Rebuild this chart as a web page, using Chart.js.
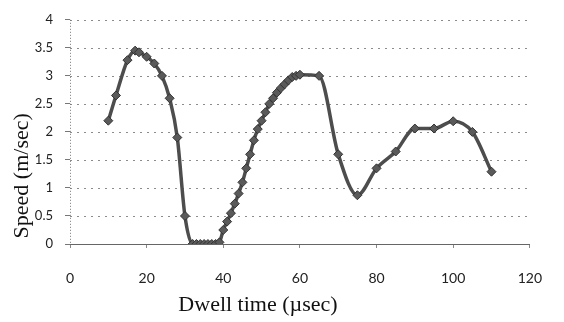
<!DOCTYPE html>
<html>
<head>
<meta charset="utf-8">
<script src="https://cdn.jsdelivr.net/npm/chart.js@4"></script>
<style>
html,body{margin:0;padding:0;background:#fff;}
#wrap{position:relative;width:564px;height:322px;}
</style>
</head>
<body>
<div id="wrap"><canvas id="c" width="564" height="322"></canvas></div>
<script>
// Dwell time (µsec)
const dwellTimes = [10,12,15,17,18,20,22,24,26,28,30,32,33,34,35,36,37,38,39,
  40,41,42,43,44,45,46,47,48,49,50,51,52,53,54,55,56,57,58,59,60,
  65,70,75,80,85,90,95,100,105,110];
// Speed (m/sec)
const speeds = [2.2,2.65,3.28,3.45,3.42,3.34,3.22,3.0,2.6,1.9,0.5,0.0,0.0,0.0,0.0,0.0,0.0,0.0,0.03,
  0.25,0.4,0.55,0.72,0.9,1.1,1.35,1.6,1.85,2.05,2.2,2.35,2.5,2.6,2.7,2.78,2.85,2.92,2.98,3.0,3.02,
  3.0,1.6,0.87,1.35,1.65,2.06,2.06,2.19,2.0,1.29];
const xTickLabels = ['0','20','40','60','80','100','120'];
const yTickLabels = ['0','0.5','1','1.5','2','2.5','3','3.5','4'];
const xTitle = 'Dwell time (µsec)';
const yTitle = 'Speed (m/sec)';

const points = dwellTimes.map((x, i) => ({x: x, y: speeds[i]}));

const dashedGrid = {
  id: 'dashedGrid',
  beforeDatasetsDraw(chart) {
    const ctx = chart.ctx;
    const ca = chart.chartArea;
    const ys = chart.scales.y;
    ctx.save();
    ctx.strokeStyle = '#8c8c8c';
    ctx.lineWidth = 1;
    ctx.setLineDash([2, 5]);
    ys.ticks.forEach(t => {
      if (t.value === 0) return;
      const py = Math.round(ys.getPixelForValue(t.value)) + 0.5;
      ctx.beginPath();
      ctx.moveTo(ca.left, py);
      ctx.lineTo(ca.right, py);
      ctx.stroke();
    });
    // dotted left axis line
    ctx.setLineDash([1, 2]);
    ctx.strokeStyle = '#777';
    ctx.beginPath();
    ctx.moveTo(ca.left + 0.5, ca.top);
    ctx.lineTo(ca.left + 0.5, ca.bottom);
    ctx.stroke();
    ctx.restore();
  }
};

const titlePlugin = {
  id: 'axisTitles',
  afterDraw(chart) {
    const ctx = chart.ctx;
    const ca = chart.chartArea;
    ctx.save();
    ctx.fillStyle = '#111';
    ctx.font = '22px "Liberation Serif", "DejaVu Serif", serif';
    ctx.textAlign = 'center';
    ctx.textBaseline = 'middle';
    ctx.fillText(xTitle, ca.left + 188, ca.bottom + 61);
    ctx.translate(22, ca.top + 156);
    ctx.rotate(-Math.PI / 2);
    ctx.fillText(yTitle, 0, 0);
    ctx.restore();
  }
};

new Chart(document.getElementById('c'), {
  type: 'line',
  data: {
    datasets: [{
      data: points,
      borderColor: '#4d4d4d',
      backgroundColor: '#3f3f3f',
      borderWidth: 3.5,
      pointStyle: 'rectRot',
      pointRadius: 4.5,
      pointBorderWidth: 1,
      pointBorderColor: '#333',
      pointBackgroundColor: '#5a5a5a',
      cubicInterpolationMode: 'monotone',
      fill: false
    }]
  },
  options: {
    responsive: false,
    animation: false,
    devicePixelRatio: 1,
    layout: { padding: { left: 0, top: 14, right: 21, bottom: 0 } },
    plugins: { legend: { display: false }, tooltip: { enabled: false } },
    scales: {
      x: {
        type: 'linear',
        min: 0, max: 120,
        afterFit(s) { s.height = 78; },
        ticks: {
          stepSize: 20,
          padding: 22,
          color: '#222',
          font: { family: 'Lato, "Open Sans", sans-serif', size: 14 },
          callback: (v) => xTickLabels[Math.round(v / 20)]
        },
        grid: { drawOnChartArea: false, drawTicks: true, tickLength: 4, color: '#888' },
        border: { display: true, color: '#666', width: 1 }
      },
      y: {
        min: 0, max: 4,
        afterFit(s) { s.width = 70; },
        ticks: {
          stepSize: 0.5,
          padding: 12,
          color: '#222',
          font: { family: 'Lato, "Open Sans", sans-serif', size: 13 },
          callback: (v) => yTickLabels[Math.round(v * 2)]
        },
        grid: { drawOnChartArea: false, drawTicks: true, tickLength: 5, color: '#777' },
        border: { display: false }
      }
    }
  },
  plugins: [dashedGrid, titlePlugin]
});
</script>
</body>
</html>
